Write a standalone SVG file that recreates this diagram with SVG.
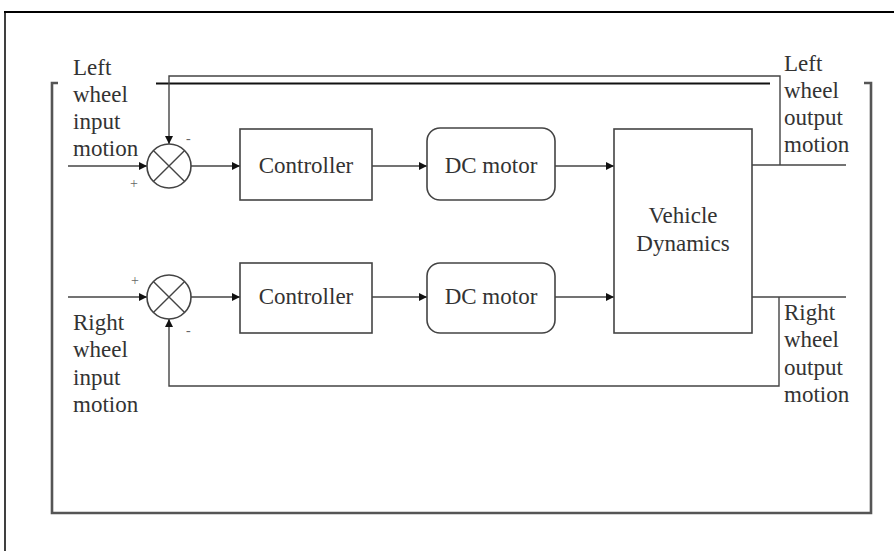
<svg xmlns="http://www.w3.org/2000/svg" width="894" height="551" viewBox="0 0 894 551">
  <style>
    .box { fill: #ffffff; stroke: #444; stroke-width: 1.6; }
    .wire { fill: none; stroke: #444; stroke-width: 1.4; }
    .label { font-family: "Liberation Serif", "Times New Roman", serif; font-size: 23px; fill: #333; }
    .sign { font-family: "Liberation Serif", "Times New Roman", serif; font-size: 14px; fill: #666; }
  </style>
  <defs>
    <marker id="arrow" viewBox="0 0 10 10" refX="10" refY="5" markerWidth="8" markerHeight="8" markerUnits="userSpaceOnUse" orient="auto">
      <path d="M0,0 L10,5 L0,10 z" fill="#111"/>
    </marker>
  </defs>

  <rect x="0" y="0" width="894" height="551" fill="#ffffff"/>

  <!-- outer frame -->
  <g id="frame">
    <path d="M5,551 V12 H894" fill="none" stroke="#111" stroke-width="1.6"/>
    <path d="M4,12 H894" fill="none" stroke="#000" stroke-width="2.2"/>
  </g>

  <!-- bracket around the loop -->
  <g id="bracket">
    <path d="M58,83 H52 V513 H871 V83 H864" fill="none" stroke="#555" stroke-width="2.6"/>
  </g>

  <!-- connectors -->
  <g id="connectors">
    <!-- thick top rail -->
    <path d="M156,83.5 H770" fill="none" stroke="#111" stroke-width="2.2"/>
    <!-- left wheel feedback -->
    <path class="wire" d="M780,165 V76 H169 V144" marker-end="url(#arrow)"/>
    <!-- left wheel forward path -->
    <path class="wire" d="M68,166 H147" marker-end="url(#arrow)"/>
    <path class="wire" d="M191,166 H240" marker-end="url(#arrow)"/>
    <path class="wire" d="M372,166 H427" marker-end="url(#arrow)"/>
    <path class="wire" d="M555,166 H614" marker-end="url(#arrow)"/>
    <path class="wire" d="M752,165 H846"/>
    <!-- right wheel forward path -->
    <path class="wire" d="M68,297 H147" marker-end="url(#arrow)"/>
    <path class="wire" d="M191,297 H240" marker-end="url(#arrow)"/>
    <path class="wire" d="M372,297 H427" marker-end="url(#arrow)"/>
    <path class="wire" d="M555,297 H614" marker-end="url(#arrow)"/>
    <path class="wire" d="M752,297 H846"/>
    <!-- right wheel feedback -->
    <path class="wire" d="M779,297 V386 H169 V319" marker-end="url(#arrow)"/>
  </g>

  <!-- summing junctions -->
  <g id="sum-left">
    <circle cx="169" cy="166" r="22" class="box"/>
    <path class="wire" d="M153.4,150.4 L184.6,181.6 M184.6,150.4 L153.4,181.6"/>
    <text class="sign" x="186" y="143">-</text>
    <text class="sign" x="130" y="188">+</text>
  </g>
  <g id="sum-right">
    <circle cx="169" cy="297" r="22" class="box"/>
    <path class="wire" d="M153.4,281.4 L184.6,312.6 M184.6,281.4 L153.4,312.6"/>
    <text class="sign" x="131" y="285">+</text>
    <text class="sign" x="186" y="335">-</text>
  </g>

  <!-- blocks -->
  <g id="controller-left">
    <rect x="240" y="129" width="132" height="71" class="box"/>
    <text class="label" x="306" y="173" text-anchor="middle">Controller</text>
  </g>
  <g id="motor-left">
    <rect x="427" y="128" width="128" height="72" rx="13" class="box"/>
    <text class="label" x="491" y="173" text-anchor="middle">DC motor</text>
  </g>
  <g id="controller-right">
    <rect x="240" y="263" width="132" height="70" class="box"/>
    <text class="label" x="306" y="304" text-anchor="middle">Controller</text>
  </g>
  <g id="motor-right">
    <rect x="427" y="263" width="128" height="70" rx="13" class="box"/>
    <text class="label" x="491" y="304" text-anchor="middle">DC motor</text>
  </g>
  <g id="vehicle">
    <rect x="614" y="129" width="138" height="204" class="box"/>
    <text class="label" x="683" y="223" text-anchor="middle">Vehicle</text>
    <text class="label" x="683" y="251" text-anchor="middle">Dynamics</text>
  </g>

  <!-- signal labels -->
  <g id="label-left-in">
    <text class="label" x="73" y="75">Left</text>
    <text class="label" x="73" y="102">wheel</text>
    <text class="label" x="73" y="129">input</text>
    <text class="label" x="73" y="156">motion</text>
  </g>
  <g id="label-right-in">
    <text class="label" x="73" y="330">Right</text>
    <text class="label" x="73" y="357">wheel</text>
    <text class="label" x="73" y="385">input</text>
    <text class="label" x="73" y="412">motion</text>
  </g>
  <g id="label-left-out">
    <text class="label" x="784" y="71">Left</text>
    <text class="label" x="784" y="98">wheel</text>
    <text class="label" x="784" y="125">output</text>
    <text class="label" x="784" y="152">motion</text>
  </g>
  <g id="label-right-out">
    <text class="label" x="784" y="320">Right</text>
    <text class="label" x="784" y="347">wheel</text>
    <text class="label" x="784" y="375">output</text>
    <text class="label" x="784" y="402">motion</text>
  </g>
</svg>
